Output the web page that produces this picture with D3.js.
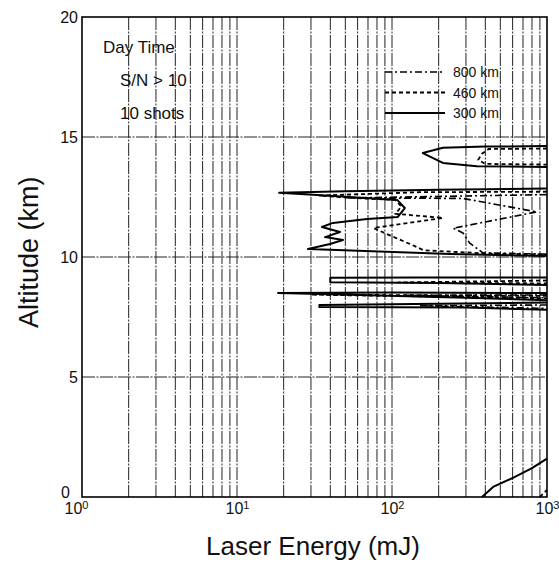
<!DOCTYPE html>
<html>
<head>
<meta charset="utf-8">
<script src="https://cdn.jsdelivr.net/npm/d3@7"></script>
<style>
  body { margin: 0; background: #fff; }
  text { font-family: "Liberation Sans", Arial, Helvetica, sans-serif; fill: #111; }
</style>
</head>
<body>
<figure id="chart" style="margin:0"></figure>
<script>
// axis values
const xTicks = [1, 10, 100, 1000];
const yTicks = [0, 5, 10, 15, 20];
const yGrid = [5, 10, 15];
const seriesNames = ["800 km", "460 km", "300 km"];
const notes = ["Day Time", "S/N > 10", "10 shots"];

// contours, [energy mJ, altitude km]
// 300 km (solid)
const solidTop = [[1000, 14.62], [400, 14.6], [213, 14.55], [158, 14.33], [213, 13.92], [353, 13.78], [1000, 13.75]];
const solidBand = [[1000, 12.85], [200, 12.8], [50, 12.74], [18.7, 12.68], [33, 12.58], [108, 12.38], [121, 12.04],
  [109, 11.67], [69, 11.58], [41.6, 11.42], [35.3, 11.25], [46.2, 11.04], [37, 10.83], [48.3, 10.71],
  [39.8, 10.54], [28.7, 10.33], [44.2, 10.29], [237, 10.12], [1000, 10.04]];
const solid9 = [[1000, 9.15], [150, 9.15], [40, 9.14], [40, 8.95], [200, 8.92], [1000, 8.83]];
const solid85 = [[1000, 8.5], [100, 8.52], [18.4, 8.5], [40, 8.45], [300, 8.3], [1000, 8.2]];
const solid8 = [[1000, 8.1], [200, 8.05], [34, 8.0], [34, 7.92], [300, 7.9], [1000, 7.8]];
const solidLow = [[381, 0], [449, 0.42], [603, 0.8], [800, 1.2], [1000, 1.6]];
// 460 km (dotted)
const dotTop = [[1000, 14.52], [420, 14.5], [380, 14.3], [360, 14.05], [400, 13.88], [1000, 13.85]];
const dotBand = [[1000, 12.72], [150, 12.7], [34, 12.56], [60, 12.45], [105, 12.38], [115, 12.1], [105, 11.8],
  [213, 11.63], [76, 11.21], [97, 10.9], [135, 10.5], [160, 10.28], [400, 10.15], [1000, 10.1]];
const dot9 = [[1000, 9.02], [110, 8.94], [1000, 8.9]];
const dot85 = [[1000, 8.38], [30, 8.43], [1000, 8.28]];
const dotLow = [[900, 0], [1000, 0.3]];
// 800 km (dash-dot)
const dashBand = [[1000, 12.6], [52, 12.46], [287, 12.44], [861, 11.88], [248, 11.2], [287, 11.0], [317, 10.58],
  [386, 10.17], [1000, 10.12]];
const dash85 = [[1000, 8.42], [120, 8.4], [1000, 8.3]];
const dash8 = [[1000, 8.0], [150, 7.97], [1000, 7.86]];

const width = 559, height = 564;
const margin = { left: 82, right: 12, top: 17, bottom: 67 };

const svg = d3.select("figure#chart")
  .append("svg")
  .attr("width", width)
  .attr("height", height);

const x = d3.scaleLog().domain([1, 1000]).range([margin.left, width - margin.right]);
const y = d3.scaleLinear().domain([0, 20]).range([height - margin.bottom, margin.top]);

// grid: every minor decade step
const xGrid = [];
for (let d = 1; d < 1000; d *= 10) {
  for (let k = 2; k <= 9; k++) xGrid.push(d * k);
}
xGrid.push(10, 100);

svg.append("g")
  .selectAll("line")
  .data(xGrid)
  .enter()
  .append("line")
  .attr("x1", d => x(d)).attr("x2", d => x(d))
  .attr("y1", y(20)).attr("y2", y(0))
  .attr("stroke", "#222")
  .attr("stroke-width", 1)
  .attr("stroke-dasharray", "13,1.5,2,1.5");

svg.append("g")
  .selectAll("line")
  .data(yGrid)
  .enter()
  .append("line")
  .attr("x1", x(1)).attr("x2", x(1000))
  .attr("y1", d => y(d)).attr("y2", d => y(d))
  .attr("stroke", "#222")
  .attr("stroke-width", 1)
  .attr("stroke-dasharray", "13,1.5,2,1.5");

// contours
const line = d3.line().x(d => x(d[0])).y(d => y(d[1]));
const styles = {
  solid: { dash: null, w: 2 },
  dot: { dash: "4,3", w: 1.8 },
  dash: { dash: "7,3,2,3", w: 1.6 }
};
const curves = [
  [solidTop, "solid"], [solidBand, "solid"], [solid9, "solid"], [solid85, "solid"], [solid8, "solid"], [solidLow, "solid"],
  [dotTop, "dot"], [dotBand, "dot"], [dot9, "dot"], [dot85, "dot"], [dotLow, "dot"],
  [dashBand, "dash"], [dash85, "dash"], [dash8, "dash"]
];
svg.append("g")
  .selectAll("path")
  .data(curves)
  .enter()
  .append("path")
  .attr("d", d => line(d[0]))
  .attr("fill", "none")
  .attr("stroke", "#000")
  .attr("stroke-width", d => styles[d[1]].w)
  .attr("stroke-dasharray", d => styles[d[1]].dash)
  .attr("stroke-linejoin", "round");

// frame
svg.append("rect")
  .attr("x", x(1)).attr("y", y(20))
  .attr("width", x(1000) - x(1)).attr("height", y(0) - y(20))
  .attr("fill", "none")
  .attr("stroke", "#000")
  .attr("stroke-width", 1.6);

// axes (labels only)
const xAxis = svg.append("g")
  .attr("transform", "translate(0," + y(0) + ")")
  .call(d3.axisBottom(x).tickValues(xTicks).tickSize(0).tickPadding(3).tickFormat(() => ""));
xAxis.select(".domain").remove();
xAxis.selectAll(".tick text").each(function (d) {
  const t = d3.select(this)
    .style("font-size", "16px")
    .attr("dx", d === 1 ? "-6" : "0")
    .attr("dy", "0.85em");
  t.append("tspan").text("10");
  t.append("tspan").attr("dy", "-0.45em").style("font-size", "11px").text(Math.round(Math.log10(d)));
});

const yAxis = svg.append("g")
  .attr("transform", "translate(" + x(1) + ",0)")
  .call(d3.axisLeft(y).tickValues(yTicks).tickSize(0).tickPadding(4));
yAxis.select(".domain").remove();
yAxis.selectAll(".tick text").style("font-size", "16px");
// the 0 sits up and left of the corner
yAxis.selectAll(".tick text").filter(d => d === 0)
  .attr("x", -12).attr("dy", "0.05em");

// axis titles
svg.append("text")
  .attr("x", 313).attr("y", 555)
  .attr("text-anchor", "middle")
  .style("font-size", "26px")
  .text("Laser Energy (mJ)");

svg.append("text")
  .attr("transform", "translate(38," + y(10.2) + ") rotate(-90)")
  .attr("text-anchor", "middle")
  .style("font-size", "27px")
  .text("Altitude (km)");

// notes
const noteX = [103, 120, 120];
const noteY = [53, 86, 119];
svg.append("g")
  .selectAll("text")
  .data(notes)
  .enter()
  .append("text")
  .attr("x", (d, i) => noteX[i])
  .attr("y", (d, i) => noteY[i])
  .style("font-size", "17px")
  .text(d => d);

// legend
const legendKeys = ["dash", "dot", "solid"];
const legend = svg.append("g")
  .selectAll("g")
  .data(seriesNames)
  .enter()
  .append("g")
  .attr("transform", (d, i) => "translate(385," + (72 + i * 20.5) + ")");
legend.append("line")
  .attr("x1", 0).attr("x2", 60)
  .attr("stroke", "#000")
  .attr("stroke-width", (d, i) => styles[legendKeys[i]].w)
  .attr("stroke-dasharray", (d, i) => styles[legendKeys[i]].dash);
legend.append("text")
  .attr("x", 68).attr("y", 5)
  .style("font-size", "14px")
  .text(d => d);
</script>
</body>
</html>
